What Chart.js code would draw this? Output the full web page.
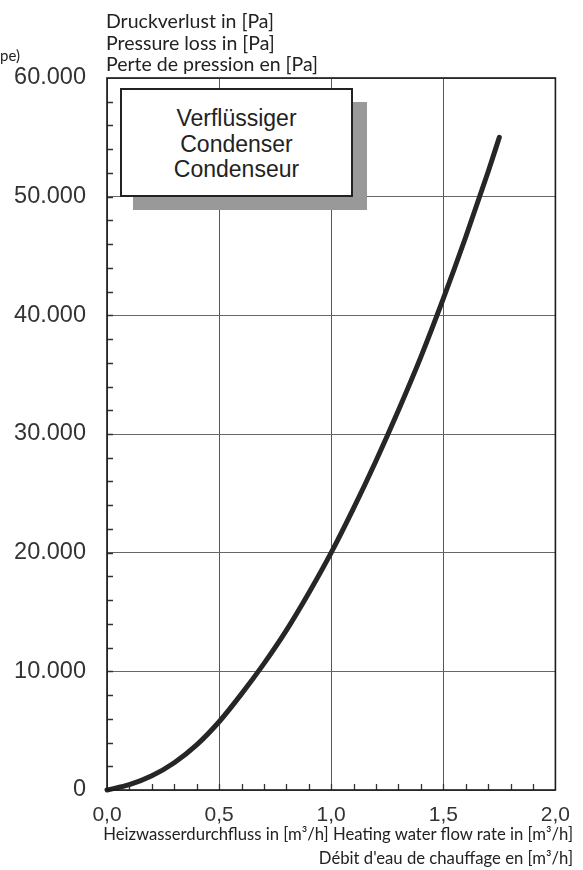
<!DOCTYPE html>
<html>
<head>
<meta charset="utf-8">
<script src="https://cdn.jsdelivr.net/npm/chart.js@4"></script>
<style>
  body { margin:0; background:#fff; }
  #wrap { position:relative; width:583px; height:870px; overflow:hidden; }
  #myCanvas { position:absolute; left:0; top:0; }
  .t { position:absolute; font-family:Lato, "Open Sans", sans-serif; color:#222; white-space:nowrap; }
  #ytitle { left:106px; top:10px; font-size:19.5px; line-height:21.5px; }
  #cut { left:0px; top:46px; font-size:15px; }
  #xtitle { right:10px; top:822px; font-size:16.7px; line-height:24px; text-align:right; }
  #shadow { position:absolute; left:133px; top:102px; width:234px; height:108px; background:#999; }
  #box { position:absolute; left:120px; top:88px; width:229px; height:89px; background:#fff; border:2px solid #222;
         font-family:"Liberation Sans", Arial, sans-serif; font-size:23px; line-height:25.5px; color:#222; text-align:center;
         padding-top:16px; box-sizing:content-box; }
</style>
</head>
<body>
<div id="wrap">
  <canvas id="myCanvas" width="583" height="870"></canvas>
  <div class="t" id="cut">pe)</div>
  <div class="t" id="ytitle">Druckverlust in [Pa]<br>Pressure loss in [Pa]<br>Perte de pression en [Pa]</div>
  <div id="shadow"></div>
  <div id="box">Verflüssiger<br>Condenser<br>Condenseur</div>
  <div class="t" id="xtitle">Heizwasserdurchfluss in [m³/h] Heating water flow rate in [m³/h]<br>Débit d'eau de chauffage en [m³/h]</div>
</div>
<script>
// flow rate [m3/h] and pressure loss [Pa]
var flowRate     = [0, 0.1, 0.2, 0.3, 0.4, 0.5, 0.6, 0.7, 0.8, 0.9, 1.0, 1.1, 1.2, 1.3, 1.4, 1.5, 1.6, 1.7, 1.75];
var pressureLoss = [0, 450, 1200, 2300, 3800, 5750, 8100, 10650, 13450, 16600, 20000, 23750, 27750, 32000, 36500, 41400, 46600, 52100, 55000];
var xTicks = [0, 0.5, 1.0, 1.5, 2.0];
var yTicks = [0, 10000, 20000, 30000, 40000, 50000, 60000];

function fmtX(v){ return v.toFixed(1).replace('.', ','); }
function fmtY(v){ return v == 0 ? "0" : v.toLocaleString('de-DE'); }

var pts = [];
for (var i = 0; i < flowRate.length; i++) pts.push({x: flowRate[i], y: pressureLoss[i]});

// minor ticks + plot frame
var frame = {
  id: 'frame',
  afterDraw: function(chart){
    var c = chart.ctx, a = chart.chartArea, xs = chart.scales.x, ys = chart.scales.y;
    c.save();
    c.strokeStyle = '#333'; c.lineWidth = 1.3;
    c.beginPath();
    for (var v = 0.1; v < 2; v += 0.1) {
      var px = Math.round(xs.getPixelForValue(v)) + 0.5;
      c.moveTo(px, a.bottom); c.lineTo(px, a.bottom - 6);
    }
    for (var w = 2000; w < 60000; w += 2000) {
      var py = Math.round(ys.getPixelForValue(w)) + 0.5;
      c.moveTo(a.left, py); c.lineTo(a.left + 6, py);
    }
    c.stroke();
    c.strokeStyle = '#1a1a1a'; c.lineWidth = 1.6;
    c.strokeRect(a.left, a.top, a.right - a.left, a.bottom - a.top);
    c.restore();
  }
};

var ctx = document.getElementById("myCanvas").getContext('2d');
var chart = new Chart(ctx, {
  type: 'scatter',
  data: {
    datasets: [{
      data: pts,
      showLine: true,
      borderColor: '#262626',
      borderWidth: 5,
      borderCapStyle: 'round',
      pointRadius: 0,
      cubicInterpolationMode: 'monotone',
      clip: false
    }]
  },
  options: {
    responsive: false,
    animation: false,
    layout: { padding: { top: 78, right: 23, left: 0, bottom: 0 } },
    plugins: { legend: { display: false }, tooltip: { enabled: false } },
    scales: {
      x: {
        type: 'linear', min: 0, max: 2,
        afterBuildTicks: function(s){ s.ticks = xTicks.map(function(v){ return {value: v}; }); },
        afterFit: function(s){ s.height = 80; },
        grid: { color: '#555', lineWidth: 1, drawTicks: false },
        border: { display: false },
        ticks: { callback: fmtX, padding: 13, maxRotation: 0, color: '#333',
                 font: { family: '"Liberation Sans", Arial', size: 21 } }
      },
      y: {
        type: 'linear', min: 0, max: 60000,
        afterBuildTicks: function(s){ s.ticks = yTicks.map(function(v){ return {value: v}; }); },
        afterFit: function(s){ s.width = 107; },
        grid: { color: '#666', lineWidth: 1, drawTicks: false },
        border: { display: false },
        ticks: { callback: fmtY, padding: 21, color: '#333',
                 font: { family: '"Liberation Sans", Arial', size: 23.5 } }
      }
    }
  },
  plugins: [frame]
});
</script>
</body>
</html>
